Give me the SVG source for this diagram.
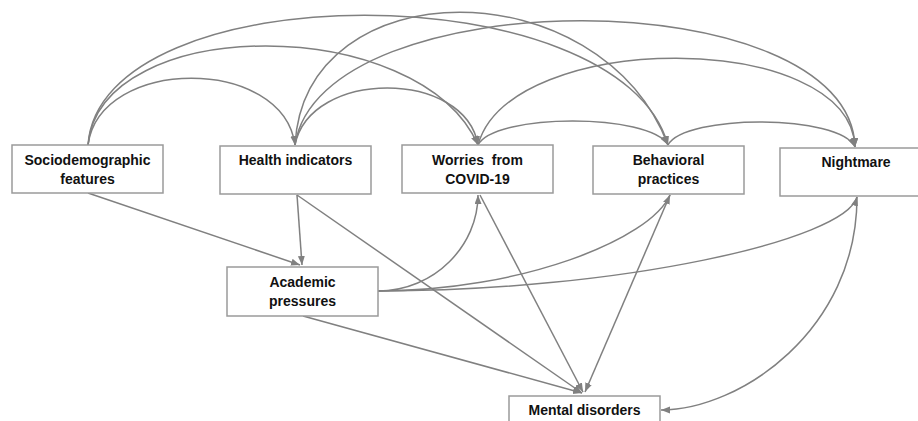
<svg xmlns="http://www.w3.org/2000/svg" width="918" height="421" viewBox="0 0 918 421">
<style>
.box{fill:#fff;stroke:#9a9a9a;stroke-width:1.5}
.lbl{font-family:"Liberation Sans",Arial,sans-serif;font-weight:bold;font-size:14px;fill:#111;text-anchor:middle}
.c{fill:none;stroke:#808080;stroke-width:1.5;marker-end:url(#ah)}
</style>
<defs>
<marker id="ah" markerUnits="userSpaceOnUse" markerWidth="10" markerHeight="8" refX="9" refY="3.5" orient="auto">
<path d="M0,0 L9,3.5 L0,7 z" fill="#808080"/>
</marker>
</defs>
<rect width="918" height="421" fill="#fff"/>
<g id="connectors">
<path class="c" d="M88,145 C100,56 283,56 295,145"/>
<path class="c" d="M88,145 C100,13 420,13 478,145"/>
<path class="c" d="M88,145 C100,-28 620,-28 668,145"/>
<path class="c" d="M295,145 C310,69 465,69 478,145"/>
<path class="c" d="M295,145 C305,-32 600,-32 668,145"/>
<path class="c" d="M295,145 C320,-21 850,-21 855,147"/>
<path class="c" d="M478,145 C495,113 650,113 668,145"/>
<path class="c" d="M478,145 C510,29 850,29 855,147"/>
<path class="c" d="M668,145 C685,114 840,114 855,147"/>
<path class="c" d="M88,193 L300,265"/>
<path class="c" d="M297,195 L302,265"/>
<path class="c" d="M297,195 L582,393"/>
<path class="c" d="M303,316 L582,393"/>
<path class="c" d="M480,195 L583,392"/>
<path class="c" d="M670,195 L585,392"/>
<path class="c" d="M378,291 C435,291 478,245 478,195"/>
<path class="c" d="M378,291 C520,291 650,240 670,195"/>
<path class="c" d="M378,291 C620,291 845,240 857,197"/>
<path class="c" d="M857,197 C857,330 740,410 661,410"/>
</g>
<g id="sociodemographic">
<rect class="box" x="12" y="145" width="151" height="48"/>
<text class="lbl" x="87.5" y="165">Sociodemographic</text>
<text class="lbl" x="87.5" y="184">features</text>
</g>
<g id="health">
<rect class="box" x="220" y="146" width="151" height="48"/>
<text class="lbl" x="295.5" y="165">Health indicators</text>
</g>
<g id="worries">
<rect class="box" x="402" y="145" width="151" height="48"/>
<text class="lbl" x="477.5" y="165" xml:space="preserve">Worries  from</text>
<text class="lbl" x="477.5" y="184">COVID-19</text>
</g>
<g id="behavioral">
<rect class="box" x="593" y="146" width="151" height="48"/>
<text class="lbl" x="668.5" y="165">Behavioral</text>
<text class="lbl" x="668.5" y="184">practices</text>
</g>
<g id="nightmare">
<rect class="box" x="780" y="148" width="151" height="48"/>
<text class="lbl" x="856" y="167">Nightmare</text>
</g>
<g id="academic">
<rect class="box" x="227" y="267" width="151" height="49"/>
<text class="lbl" x="302.5" y="287">Academic</text>
<text class="lbl" x="302.5" y="306">pressures</text>
</g>
<g id="mental">
<rect class="box" x="509" y="396" width="151" height="49"/>
<text class="lbl" x="584.5" y="415">Mental disorders</text>
</g>
</svg>
